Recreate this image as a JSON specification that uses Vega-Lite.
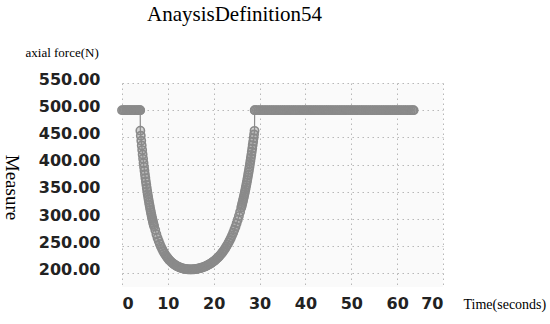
{
"$schema":"https://vega.github.io/schema/vega-lite/v6.json",
"width":321,"height":204,
"autosize":{"type":"none"},
"padding":{"left":122,"top":83,"right":107,"bottom":37},
"background":"white",
"title":{"text":"AnaysisDefinition54","font":"Liberation Serif","fontSize":21,"fontWeight":"normal","color":"#000","anchor":"start","frame":"group","dx":25,"offset":21},
"config":{"view":{"stroke":null,"fill":"#fafafa"},"axis":{"gridColor":"#b8b8b8","gridDash":[1.5,3.5],"gridWidth":1,"domain":false,"ticks":false,"labelFont":"DejaVu Sans","labelFontWeight":"bold","labelFontSize":16,"labelColor":"#222222","titleFont":"Liberation Serif","titleFontWeight":"normal","titleColor":"#000"}},
"data":{"values":[
{"t":0,"v":500},{"t":0.3,"v":500},{"t":0.6,"v":500},{"t":0.9,"v":500},{"t":1.2,"v":500},{"t":1.5,"v":500},{"t":1.8,"v":500},{"t":2.1,"v":500},{"t":2.4,"v":500},{"t":2.7,"v":500},{"t":3.0,"v":500},{"t":3.3,"v":500},{"t":3.6,"v":500},{"t":3.9,"v":500},{"t":3.97,"v":500},
{"t":4.0,"v":462.4},{"t":4.1,"v":453.0},{"t":4.2,"v":443.9},{"t":4.3,"v":435.1},{"t":4.4,"v":426.7},{"t":4.5,"v":418.5},{"t":4.6,"v":410.6},{"t":4.7,"v":403.0},{"t":4.8,"v":395.7},{"t":4.9,"v":388.6},
{"t":5.0,"v":381.8},{"t":5.1,"v":375.2},{"t":5.2,"v":368.9},{"t":5.3,"v":362.8},{"t":5.4,"v":356.9},{"t":5.5,"v":351.2},{"t":5.6,"v":345.7},{"t":5.7,"v":340.4},{"t":5.8,"v":335.3},{"t":5.9,"v":330.4},
{"t":6.0,"v":325.7},{"t":6.1,"v":321.1},{"t":6.2,"v":316.7},{"t":6.3,"v":312.4},{"t":6.4,"v":308.3},{"t":6.5,"v":304.3},{"t":6.6,"v":300.5},{"t":6.7,"v":296.8},{"t":6.8,"v":293.3},{"t":6.9,"v":289.9},
{"t":7.0,"v":286.6},{"t":7.25,"v":279.8},{"t":7.5,"v":271.8},{"t":7.75,"v":265.3},{"t":8.0,"v":259.4},{"t":8.25,"v":254.1},{"t":8.5,"v":249.2},{"t":8.75,"v":244.7},
{"t":9.0,"v":240.7},{"t":9.25,"v":237.0},{"t":9.5,"v":233.6},{"t":9.75,"v":230.5},{"t":10.0,"v":227.8},{"t":10.25,"v":225.2},{"t":10.5,"v":223.0},{"t":10.75,"v":220.9},
{"t":11.0,"v":219.0},{"t":11.25,"v":217.3},{"t":11.5,"v":215.9},{"t":11.75,"v":214.5},{"t":12.0,"v":213.3},{"t":12.25,"v":212.2},{"t":12.5,"v":211.3},{"t":12.75,"v":210.5},
{"t":13.0,"v":209.7},{"t":13.25,"v":209.1},{"t":13.5,"v":208.6},{"t":13.75,"v":208.2},{"t":14.0,"v":207.9},{"t":14.25,"v":207.6},{"t":14.5,"v":207.4},{"t":14.75,"v":207.3},
{"t":15.0,"v":207.3},{"t":15.25,"v":207.3},{"t":15.5,"v":207.5},{"t":15.75,"v":207.6},{"t":16.0,"v":207.9},{"t":16.25,"v":208.2},{"t":16.5,"v":208.6},{"t":16.75,"v":209.1},
{"t":17.0,"v":209.6},{"t":17.25,"v":210.2},{"t":17.5,"v":210.9},{"t":17.75,"v":211.6},{"t":18.0,"v":212.4},{"t":18.25,"v":213.3},{"t":18.5,"v":214.3},{"t":18.75,"v":215.4},
{"t":19.0,"v":216.6},{"t":19.25,"v":217.8},{"t":19.5,"v":219.2},{"t":19.75,"v":220.7},{"t":20.0,"v":222.2},{"t":20.25,"v":223.9},{"t":20.5,"v":225.8},{"t":20.75,"v":227.7},
{"t":21.0,"v":229.8},{"t":21.25,"v":232.1},{"t":21.5,"v":234.5},{"t":21.75,"v":237.1},{"t":22.0,"v":239.8},{"t":22.25,"v":242.8},{"t":22.5,"v":245.9},{"t":22.75,"v":249.3},
{"t":23.0,"v":252.9},{"t":23.25,"v":256.7},{"t":23.5,"v":260.8},{"t":23.75,"v":265.2},{"t":24.0,"v":269.9},{"t":24.25,"v":274.9},{"t":24.5,"v":280.2},{"t":24.75,"v":285.9},
{"t":25.0,"v":292.0},{"t":25.25,"v":298.5},{"t":25.5,"v":305.4},{"t":25.75,"v":312.8},{"t":26.0,"v":320.7},
{"t":26.1,"v":324.0},{"t":26.2,"v":327.4},{"t":26.3,"v":330.9},{"t":26.4,"v":334.5},{"t":26.5,"v":338.2},{"t":26.6,"v":342.0},{"t":26.7,"v":345.8},{"t":26.8,"v":349.8},{"t":26.9,"v":353.9},
{"t":27.0,"v":358.1},{"t":27.1,"v":362.4},{"t":27.2,"v":366.8},{"t":27.3,"v":371.3},{"t":27.4,"v":376.0},{"t":27.5,"v":380.7},{"t":27.6,"v":385.6},{"t":27.7,"v":390.7},{"t":27.8,"v":395.8},{"t":27.9,"v":401.1},
{"t":28.0,"v":406.5},{"t":28.1,"v":412.1},{"t":28.2,"v":417.8},{"t":28.3,"v":423.7},{"t":28.4,"v":429.7},{"t":28.5,"v":435.9},{"t":28.6,"v":442.2},{"t":28.7,"v":448.7},{"t":28.8,"v":455.4},{"t":28.9,"v":462.1},
{"t":28.93,"v":500},{"t":29.0,"v":500},{"t":29.4,"v":500},{"t":29.8,"v":500},{"t":30.2,"v":500},{"t":30.6,"v":500},{"t":31.0,"v":500},{"t":31.4,"v":500},{"t":31.8,"v":500},{"t":32.2,"v":500},{"t":32.6,"v":500},
{"t":33.0,"v":500},{"t":33.4,"v":500},{"t":33.8,"v":500},{"t":34.2,"v":500},{"t":34.6,"v":500},{"t":35.0,"v":500},{"t":35.4,"v":500},{"t":35.8,"v":500},{"t":36.2,"v":500},{"t":36.6,"v":500},
{"t":37.0,"v":500},{"t":37.4,"v":500},{"t":37.8,"v":500},{"t":38.2,"v":500},{"t":38.6,"v":500},{"t":39.0,"v":500},{"t":39.4,"v":500},{"t":39.8,"v":500},{"t":40.2,"v":500},{"t":40.6,"v":500},
{"t":41.0,"v":500},{"t":41.4,"v":500},{"t":41.8,"v":500},{"t":42.2,"v":500},{"t":42.6,"v":500},{"t":43.0,"v":500},{"t":43.4,"v":500},{"t":43.8,"v":500},{"t":44.2,"v":500},{"t":44.6,"v":500},
{"t":45.0,"v":500},{"t":45.4,"v":500},{"t":45.8,"v":500},{"t":46.2,"v":500},{"t":46.6,"v":500},{"t":47.0,"v":500},{"t":47.4,"v":500},{"t":47.8,"v":500},{"t":48.2,"v":500},{"t":48.6,"v":500},
{"t":49.0,"v":500},{"t":49.4,"v":500},{"t":49.8,"v":500},{"t":50.2,"v":500},{"t":50.6,"v":500},{"t":51.0,"v":500},{"t":51.4,"v":500},{"t":51.8,"v":500},{"t":52.2,"v":500},{"t":52.6,"v":500},
{"t":53.0,"v":500},{"t":53.4,"v":500},{"t":53.8,"v":500},{"t":54.2,"v":500},{"t":54.6,"v":500},{"t":55.0,"v":500},{"t":55.4,"v":500},{"t":55.8,"v":500},{"t":56.2,"v":500},{"t":56.6,"v":500},
{"t":57.0,"v":500},{"t":57.4,"v":500},{"t":57.8,"v":500},{"t":58.2,"v":500},{"t":58.6,"v":500},{"t":59.0,"v":500},{"t":59.4,"v":500},{"t":59.8,"v":500},{"t":60.2,"v":500},{"t":60.6,"v":500},
{"t":61.0,"v":500},{"t":61.4,"v":500},{"t":61.8,"v":500},{"t":62.2,"v":500},{"t":62.6,"v":500},{"t":63.0,"v":500},{"t":63.4,"v":500},{"t":63.6,"v":500}
]},
"layer":[
{"mark":{"type":"line","color":"#8a8a8a","strokeWidth":1.2},
 "encoding":{
  "x":{"field":"t","type":"quantitative","scale":{"domain":[0,70],"nice":false,"zero":false},
       "axis":{"values":[0,10,20,30,40,50,60,70],"grid":true,"labelPadding":8,"title":"Time(seconds)","titleFontSize":14,"titleAngle":0,"titleAlign":"left","titleBaseline":"middle","titleX":341,"titleY":17}},
  "y":{"field":"v","type":"quantitative","scale":{"domain":[175,550],"nice":false,"zero":false},
       "axis":{"values":[200,250,300,350,400,450,500,550],"format":".2f","grid":true,"labelPadding":22,"labelOffset":-4,"title":"axial force(N)","titleFontSize":13,"titleAngle":0,"titleAlign":"left","titleBaseline":"alphabetic","titleX":-97,"titleY":-27}}
 }},
{"mark":{"type":"point","shape":"circle","filled":true,"fill":"#8a8a8a","fillOpacity":0.35,"stroke":"#8a8a8a","strokeWidth":1.6,"size":68,"opacity":1},
 "encoding":{
  "x":{"field":"t","type":"quantitative"},
  "y":{"field":"v","type":"quantitative","scale":{"domain":[175,550],"nice":false,"zero":false},
       "axis":{"orient":"right","labels":false,"grid":false,"title":"Measure","titleFontSize":19,"titleAngle":90,"titleAlign":"center","titleBaseline":"middle","titleX":-432,"titleY":104}}
 }}
],
"resolve":{"scale":{"y":"independent"},"axis":{"y":"independent"}}
}
